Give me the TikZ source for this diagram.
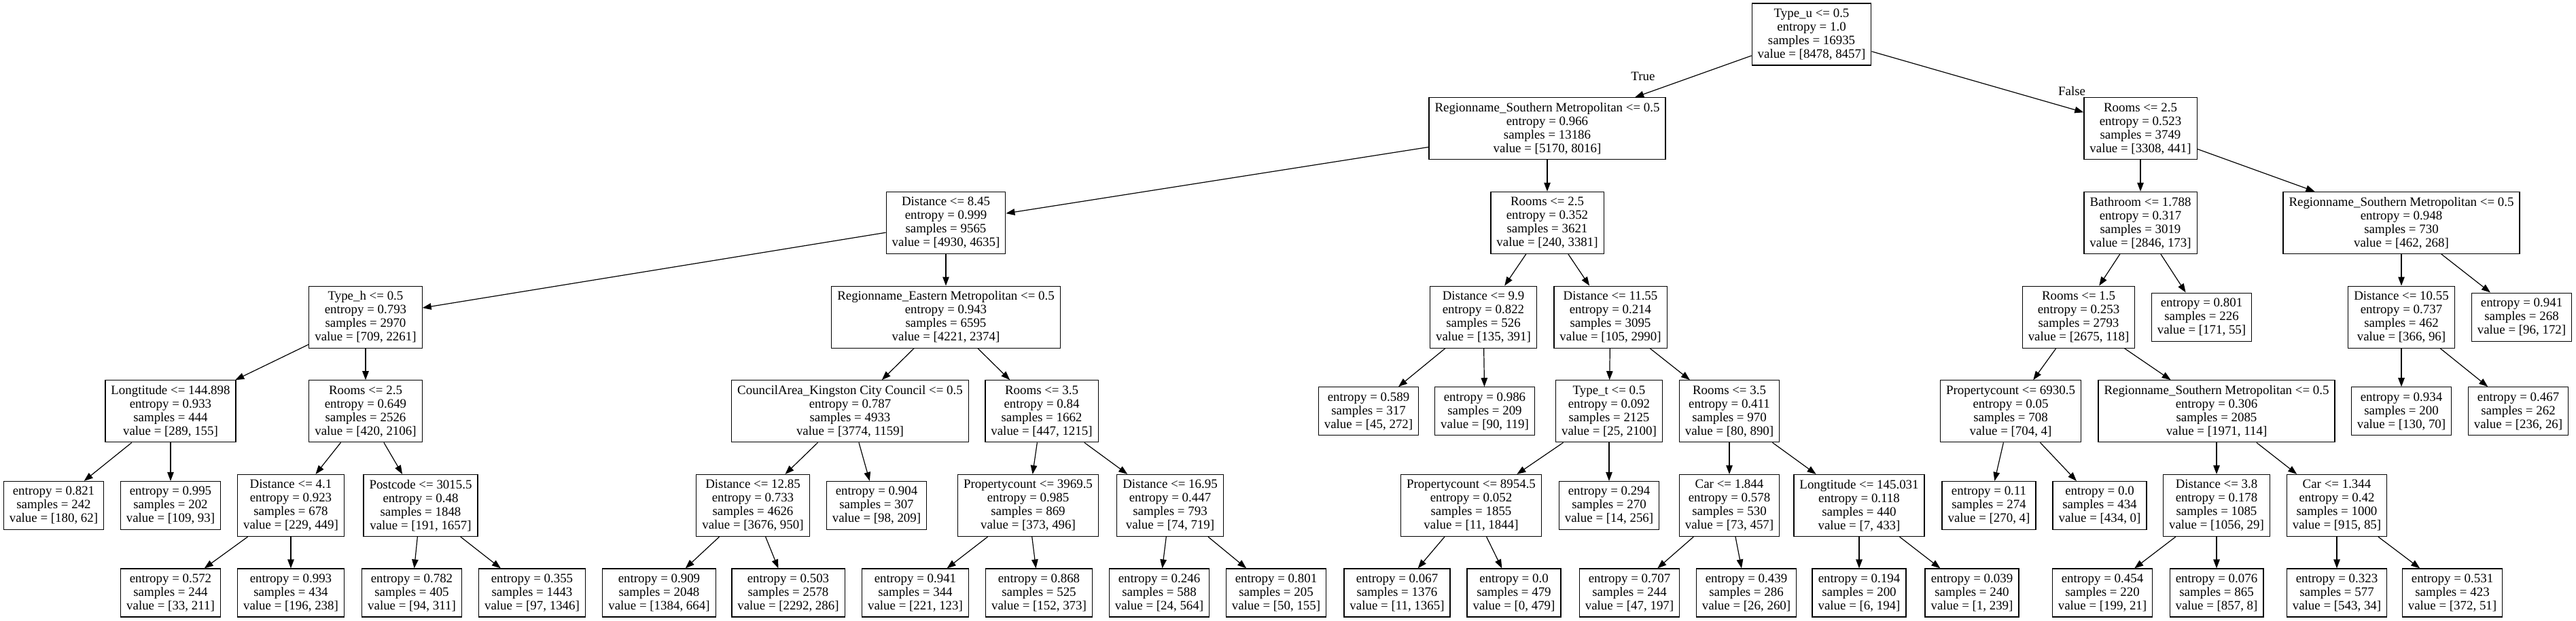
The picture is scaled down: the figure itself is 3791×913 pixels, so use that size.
\documentclass[tikz,border=0pt]{standalone}
\usepackage{fontspec}
\setmainfont{Liberation Serif}
\usetikzlibrary{arrows.meta,positioning}

\begin{document}
\begin{tikzpicture}[->,>={Triangle[length=13pt,width=9.5pt]},line width=1.2pt,
            x=1pt,y=-1pt,node distance=138.7pt,
            split/.style={draw,rectangle,align=center,inner xsep=8.5pt,inner ysep=0pt,
              minimum height=91pt,font=\fontsize{18.9}{20}\selectfont},
            leaf/.style={split,minimum height=71pt},
            lowleaf/.style={leaf,node distance=128.5pt},
            lbl/.style={font=\fontsize{18.9}{20}\selectfont}]

      \useasboundingbox (0,0) rectangle (3791,913);

      \node[split] (n_0) at (2666,50.5) {Type\_u <= 0.5\\entropy = 1.0\\samples = 16935\\value = [8478, 8457]};

      % True branch
      \node[split] (n_1) [below of=n_0, xshift=-389pt] {Regionname\_Southern Metropolitan <= 0.5\\entropy = 0.966\\samples = 13186\\value = [5170, 8016]};
      \node[split] (n_2) [below of=n_1, xshift=-885pt] {Distance <= 8.45\\entropy = 0.999\\samples = 9565\\value = [4930, 4635]};
      \node[split] (n_3) [below of=n_2, xshift=-854pt] {Type\_h <= 0.5\\entropy = 0.793\\samples = 2970\\value = [709, 2261]};
      \node[split] (n_4) [below of=n_3, xshift=-287pt] {Longtitude <= 144.898\\entropy = 0.933\\samples = 444\\value = [289, 155]};
      \node[leaf] (n_5) [below of=n_4, xshift=-172pt] {entropy = 0.821\\samples = 242\\value = [180, 62]};
      \node[leaf] (n_6) [below of=n_4] {entropy = 0.995\\samples = 202\\value = [109, 93]};
      \node[split] (n_7) [below of=n_3] {Rooms <= 2.5\\entropy = 0.649\\samples = 2526\\value = [420, 2106]};
      \node[split] (n_8) [below of=n_7, xshift=-110pt] {Distance <= 4.1\\entropy = 0.923\\samples = 678\\value = [229, 449]};
      \node[lowleaf] (n_9) [below of=n_8, xshift=-177pt] {entropy = 0.572\\samples = 244\\value = [33, 211]};
      \node[lowleaf] (n_10) [below of=n_8] {entropy = 0.993\\samples = 434\\value = [196, 238]};
      \node[split] (n_11) [below of=n_7, xshift=81pt] {Postcode <= 3015.5\\entropy = 0.48\\samples = 1848\\value = [191, 1657]};
      \node[lowleaf] (n_12) [below of=n_11, xshift=-13pt] {entropy = 0.782\\samples = 405\\value = [94, 311]};
      \node[lowleaf] (n_13) [below of=n_11, xshift=164pt] {entropy = 0.355\\samples = 1443\\value = [97, 1346]};
      \node[split] (n_14) [below of=n_2] {Regionname\_Eastern Metropolitan <= 0.5\\entropy = 0.943\\samples = 6595\\value = [4221, 2374]};
      \node[split] (n_15) [below of=n_14, xshift=-141pt] {CouncilArea\_Kingston City Council <= 0.5\\entropy = 0.787\\samples = 4933\\value = [3774, 1159]};
      \node[split] (n_16) [below of=n_15, xshift=-143pt] {Distance <= 12.85\\entropy = 0.733\\samples = 4626\\value = [3676, 950]};
      \node[lowleaf] (n_17) [below of=n_16, xshift=-138pt] {entropy = 0.909\\samples = 2048\\value = [1384, 664]};
      \node[lowleaf] (n_18) [below of=n_16, xshift=52pt] {entropy = 0.503\\samples = 2578\\value = [2292, 286]};
      \node[leaf] (n_19) [below of=n_15, xshift=39pt] {entropy = 0.904\\samples = 307\\value = [98, 209]};
      \node[split] (n_20) [below of=n_14, xshift=141pt] {Rooms <= 3.5\\entropy = 0.84\\samples = 1662\\value = [447, 1215]};
      \node[split] (n_21) [below of=n_20, xshift=-20pt] {Propertycount <= 3969.5\\entropy = 0.985\\samples = 869\\value = [373, 496]};
      \node[lowleaf] (n_22) [below of=n_21, xshift=-166pt] {entropy = 0.941\\samples = 344\\value = [221, 123]};
      \node[lowleaf] (n_23) [below of=n_21, xshift=16pt] {entropy = 0.868\\samples = 525\\value = [152, 373]};
      \node[split] (n_24) [below of=n_20, xshift=189pt] {Distance <= 16.95\\entropy = 0.447\\samples = 793\\value = [74, 719]};
      \node[lowleaf] (n_25) [below of=n_24, xshift=-16pt] {entropy = 0.246\\samples = 588\\value = [24, 564]};
      \node[lowleaf] (n_26) [below of=n_24, xshift=156pt] {entropy = 0.801\\samples = 205\\value = [50, 155]};
      \node[split] (n_27) [below of=n_1] {Rooms <= 2.5\\entropy = 0.352\\samples = 3621\\value = [240, 3381]};
      \node[split] (n_28) [below of=n_27, xshift=-94pt] {Distance <= 9.9\\entropy = 0.822\\samples = 526\\value = [135, 391]};
      \node[leaf] (n_29) [below of=n_28, xshift=-169pt] {entropy = 0.589\\samples = 317\\value = [45, 272]};
      \node[leaf] (n_30) [below of=n_28, xshift=2pt] {entropy = 0.986\\samples = 209\\value = [90, 119]};
      \node[split] (n_31) [below of=n_27, xshift=93pt] {Distance <= 11.55\\entropy = 0.214\\samples = 3095\\value = [105, 2990]};
      \node[split] (n_32) [below of=n_31, xshift=-2pt] {Type\_t <= 0.5\\entropy = 0.092\\samples = 2125\\value = [25, 2100]};
      \node[split] (n_33) [below of=n_32, xshift=-203pt] {Propertycount <= 8954.5\\entropy = 0.052\\samples = 1855\\value = [11, 1844]};
      \node[lowleaf] (n_34) [below of=n_33, xshift=-109pt] {entropy = 0.067\\samples = 1376\\value = [11, 1365]};
      \node[lowleaf] (n_35) [below of=n_33, xshift=63pt] {entropy = 0.0\\samples = 479\\value = [0, 479]};
      \node[leaf] (n_36) [below of=n_32] {entropy = 0.294\\samples = 270\\value = [14, 256]};
      \node[split] (n_37) [below of=n_31, xshift=175pt] {Rooms <= 3.5\\entropy = 0.411\\samples = 970\\value = [80, 890]};
      \node[split] (n_38) [below of=n_37] {Car <= 1.844\\entropy = 0.578\\samples = 530\\value = [73, 457]};
      \node[lowleaf] (n_39) [below of=n_38, xshift=-147pt] {entropy = 0.707\\samples = 244\\value = [47, 197]};
      \node[lowleaf] (n_40) [below of=n_38, xshift=25pt] {entropy = 0.439\\samples = 286\\value = [26, 260]};
      \node[split] (n_41) [below of=n_37, xshift=191pt] {Longtitude <= 145.031\\entropy = 0.118\\samples = 440\\value = [7, 433]};
      \node[lowleaf] (n_42) [below of=n_41] {entropy = 0.194\\samples = 200\\value = [6, 194]};
      \node[lowleaf] (n_43) [below of=n_41, xshift=166pt] {entropy = 0.039\\samples = 240\\value = [1, 239]};

      % False branch
      \node[split] (n_44) [below of=n_0, xshift=484pt] {Rooms <= 2.5\\entropy = 0.523\\samples = 3749\\value = [3308, 441]};
      \node[split] (n_45) [below of=n_44] {Bathroom <= 1.788\\entropy = 0.317\\samples = 3019\\value = [2846, 173]};
      \node[split] (n_46) [below of=n_45, xshift=-91pt] {Rooms <= 1.5\\entropy = 0.253\\samples = 2793\\value = [2675, 118]};
      \node[split] (n_47) [below of=n_46, xshift=-100pt] {Propertycount <= 6930.5\\entropy = 0.05\\samples = 708\\value = [704, 4]};
      \node[leaf] (n_48) [below of=n_47, xshift=-32pt] {entropy = 0.11\\samples = 274\\value = [270, 4]};
      \node[leaf] (n_49) [below of=n_47, xshift=131pt] {entropy = 0.0\\samples = 434\\value = [434, 0]};
      \node[split] (n_50) [below of=n_46, xshift=203pt] {Regionname\_Southern Metropolitan <= 0.5\\entropy = 0.306\\samples = 2085\\value = [1971, 114]};
      \node[split] (n_51) [below of=n_50] {Distance <= 3.8\\entropy = 0.178\\samples = 1085\\value = [1056, 29]};
      \node[lowleaf] (n_52) [below of=n_51, xshift=-168pt] {entropy = 0.454\\samples = 220\\value = [199, 21]};
      \node[lowleaf] (n_53) [below of=n_51] {entropy = 0.076\\samples = 865\\value = [857, 8]};
      \node[split] (n_54) [below of=n_50, xshift=177pt] {Car <= 1.344\\entropy = 0.42\\samples = 1000\\value = [915, 85]};
      \node[lowleaf] (n_55) [below of=n_54] {entropy = 0.323\\samples = 577\\value = [543, 34]};
      \node[lowleaf] (n_56) [below of=n_54, xshift=170pt] {entropy = 0.531\\samples = 423\\value = [372, 51]};
      \node[leaf] (n_57) [below of=n_45, xshift=90pt] {entropy = 0.801\\samples = 226\\value = [171, 55]};
      \node[split] (n_58) [below of=n_44, xshift=384pt] {Regionname\_Southern Metropolitan <= 0.5\\entropy = 0.948\\samples = 730\\value = [462, 268]};
      \node[split] (n_59) [below of=n_58] {Distance <= 10.55\\entropy = 0.737\\samples = 462\\value = [366, 96]};
      \node[leaf] (n_60) [below of=n_59] {entropy = 0.934\\samples = 200\\value = [130, 70]};
      \node[leaf] (n_61) [below of=n_59, xshift=172pt] {entropy = 0.467\\samples = 262\\value = [236, 26]};
      \node[leaf] (n_62) [below of=n_58, xshift=177pt] {entropy = 0.941\\samples = 268\\value = [96, 172]};

      \path (n_0) edge node[lbl, pos=0.5, xshift=-74pt] {True} (n_1)
            (n_0) edge node[lbl, pos=0.9, xshift=14pt, yshift=22pt] {False} (n_44)

            (n_1) edge (n_2)    (n_1) edge (n_27)
            (n_2) edge (n_3)    (n_2) edge (n_14)
            (n_3) edge (n_4)    (n_3) edge (n_7)
            (n_4) edge (n_5)    (n_4) edge (n_6)
            (n_7) edge (n_8)    (n_7) edge (n_11)
            (n_8) edge (n_9)    (n_8) edge (n_10)
            (n_11) edge (n_12)  (n_11) edge (n_13)
            (n_14) edge (n_15)  (n_14) edge (n_20)
            (n_15) edge (n_16)  (n_15) edge (n_19)
            (n_16) edge (n_17)  (n_16) edge (n_18)
            (n_20) edge (n_21)  (n_20) edge (n_24)
            (n_21) edge (n_22)  (n_21) edge (n_23)
            (n_24) edge (n_25)  (n_24) edge (n_26)
            (n_27) edge (n_28)  (n_27) edge (n_31)
            (n_28) edge (n_29)  (n_28) edge (n_30)
            (n_31) edge (n_32)  (n_31) edge (n_37)
            (n_32) edge (n_33)  (n_32) edge (n_36)
            (n_33) edge (n_34)  (n_33) edge (n_35)
            (n_37) edge (n_38)  (n_37) edge (n_41)
            (n_38) edge (n_39)  (n_38) edge (n_40)
            (n_41) edge (n_42)  (n_41) edge (n_43)

            (n_44) edge (n_45)  (n_44) edge (n_58)
            (n_45) edge (n_46)  (n_45) edge (n_57)
            (n_46) edge (n_47)  (n_46) edge (n_50)
            (n_47) edge (n_48)  (n_47) edge (n_49)
            (n_50) edge (n_51)  (n_50) edge (n_54)
            (n_51) edge (n_52)  (n_51) edge (n_53)
            (n_54) edge (n_55)  (n_54) edge (n_56)
            (n_58) edge (n_59)  (n_58) edge (n_62)
            (n_59) edge (n_60)  (n_59) edge (n_61)
            ;

\end{tikzpicture}
\end{document}
